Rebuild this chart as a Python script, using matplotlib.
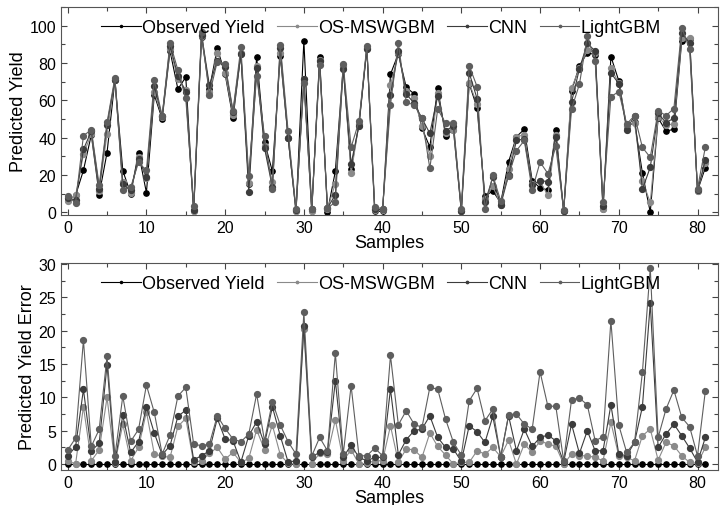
import matplotlib
matplotlib.use("Agg")
import matplotlib.pyplot as plt
from matplotlib.ticker import MultipleLocator

plt.rcParams['font.family'] = ['Liberation Sans', 'DejaVu Sans']

# datos
samples = list(range(82))

observed = [6.5, 9, 22.5, 41.5, 9.5, 32, 71, 22.3, 10, 32,
            10.5, 63, 50, 86.5, 66, 72.5, 0.5, 94, 66, 88,
            74, 50.5, 85, 15, 83.5, 37.5, 22, 84, 40, 0.5,
            92, 0.5, 83, 0.3, 22, 78, 23, 47.5, 88, 0.5,
            0.5, 74, 85, 67, 63.5, 45, 35, 66.5, 41, 44.3,
            0.5, 69, 56, 8.5, 11.5, 5, 27, 40.5, 44.5, 17,
            13, 12, 44, 0.5, 65, 78.5, 85.5, 84.5, 1.5, 83.5,
            70.5, 45.5, 48.5, 21, 0, 50.5, 43.5, 44.5, 92, 93,
            11.5, 24]

os_mswgbm = [6.0, 9.0, 31.1, 42.0, 11.5, 42.0, 71.1, 16.3, 10.5, 29.5,
             18.4, 64.5, 51.2, 87.5, 71.7, 65.7, 0.8, 94.5, 64.4, 85.5,
             74.8, 52.3, 85.3, 15.9, 78.4, 35.4, 16.2, 85.4, 39.9, 0.5,
             71.7, 0.5, 81.4, 1.8, 15.4, 78.5, 20.9, 47.5, 88.0, 1.0,
             1.0, 68.2, 85.2, 64.8, 61.3, 46.0, 30.4, 63.9, 42.4, 44.3,
             0.8, 69.3, 58.0, 7.0, 14.0, 3.9, 23.4, 40.5, 41.5, 15.3,
             16.5, 9.0, 41.3, 0.5, 66.5, 77.3, 86.8, 85.5, 2.0, 77.3,
             69.3, 46.5, 48.0, 16.8, 5.3, 51.1, 46.8, 47.3, 93.3, 93.3,
             11.6, 26.5]

cnn = [7.7, 6.4, 33.7, 43.5, 12.5, 46.9, 71.0, 15.1, 11.7, 28.7,
       19.1, 67.6, 51.4, 89.3, 73.2, 64.4, 1.2, 95.3, 68.0, 81.2,
       77.8, 54.0, 85.0, 10.8, 77.2, 34.5, 13.4, 88.3, 40.0, 1.0,
       71.3, 1.6, 81.3, 2.2, 9.5, 77.0, 25.9, 46.5, 87.5, 1.5,
       1.5, 62.8, 86.4, 63.4, 58.5, 50.3, 42.3, 62.5, 43.5, 46.5,
       0.9, 74.8, 60.9, 5.3, 18.7, 3.9, 19.8, 38.5, 39.3, 14.4,
       17.0, 16.4, 40.5, 0.8, 59.0, 76.9, 90.5, 86.5, 3.5, 74.6,
       69.0, 44.3, 51.8, 12.4, 24.1, 53.0, 48.0, 50.5, 96.3, 90.6,
       11.8, 28.0]

lightgbm = [8.6, 5.1, 41.1, 44.2, 14.5, 48.2, 72.2, 12.1, 13.4, 26.8,
            22.4, 70.8, 51.5, 90.9, 76.2, 61.0, 3.5, 96.8, 63.0, 80.8,
            79.4, 54.3, 88.4, 19.5, 73.0, 41.0, 12.7, 89.9, 43.4, 2.0,
            69.2, 1.7, 79.0, 2.3, 5.4, 79.5, 34.8, 48.8, 89.3, 2.9,
            1.8, 57.6, 90.9, 59.0, 57.5, 50.5, 23.5, 55.3, 47.8, 47.6,
            1.9, 78.5, 67.4, 2.0, 19.8, 6.1, 19.7, 33.0, 38.5, 11.8,
            26.9, 20.7, 35.3, 1.0, 55.4, 68.6, 94.4, 81.0, 5.6, 62.0,
            64.7, 47.3, 51.8, 34.8, 29.4, 54.5, 51.8, 55.6, 99.0, 87.4,
            12.7, 35.0]

obs_err = [0] * 82

os_err = [0.5, 0.0, 8.6, 0.5, 2.1, 10.0, 0.1, 6.0, 0.5, 2.5,
          7.85, 1.5, 1.2, 1.0, 5.65, 6.85, 0.25, 0.5, 1.6, 2.5,
          0.75, 1.75, 0.25, 0.85, 5.15, 2.15, 5.85, 1.4, 0.1, 0.0,
          20.3, 0.0, 1.65, 1.5, 6.65, 0.5, 2.15, 0.0, 0.1, 0.5,
          0.5, 5.75, 0.3, 2.25, 2.15, 1.0, 4.65, 2.65, 1.35, 0.0,
          0.25, 0.25, 2.0, 1.5, 2.5, 1.1, 3.6, 0.0, 3.0, 1.75,
          3.5, 3.0, 2.7, 0.0, 1.5, 1.25, 1.25, 1.0, 0.5, 6.25,
          1.25, 1.0, 0.5, 4.25, 5.25, 0.6, 3.25, 2.75, 1.25, 0.25,
          0.1, 2.5]

cnn_err = [1.2, 2.6, 11.2, 2.0, 3.1, 14.9, 0.3, 7.3, 1.75, 3.35,
           8.6, 4.65, 1.4, 2.75, 7.15, 8.1, 0.65, 1.25, 2.0, 6.85,
           3.75, 3.5, 0.3, 4.25, 6.35, 3.0, 8.6, 4.25, 0.3, 0.5,
           20.7, 1.1, 1.75, 1.85, 12.5, 1.0, 2.85, 1.0, 0.5, 1.0,
           1.0, 11.25, 1.4, 3.65, 5.0, 5.25, 7.25, 4.0, 2.5, 2.25,
           0.4, 5.75, 4.85, 3.25, 7.15, 1.1, 7.25, 2.0, 5.25, 2.65,
           4.0, 4.35, 3.5, 0.3, 6.0, 1.6, 5.0, 2.0, 2.0, 8.9,
           1.5, 1.25, 3.25, 8.6, 24.1, 2.5, 4.5, 6.0, 4.25, 2.4,
           0.3, 4.0]

lgbm_err = [2.1, 3.9, 18.6, 2.65, 5.2, 16.2, 1.2, 10.2, 3.4, 5.2,
            11.85, 7.75, 1.5, 4.35, 10.2, 11.5, 3.0, 2.75, 3.0, 7.25,
            5.35, 3.75, 3.35, 4.5, 10.5, 3.5, 9.35, 5.85, 3.35, 1.5,
            22.8, 1.2, 4.0, 2.0, 16.65, 1.5, 11.75, 1.25, 1.25, 2.4,
            1.25, 16.3, 5.9, 8.0, 6.0, 5.5, 11.5, 11.25, 6.75, 3.25,
            1.35, 9.5, 11.35, 6.5, 8.25, 1.1, 7.35, 7.5, 6.0, 5.25,
            13.85, 8.65, 8.7, 0.5, 9.65, 9.9, 8.9, 3.5, 4.1, 21.5,
            5.85, 1.75, 3.25, 13.75, 29.4, 4.0, 8.25, 11.1, 7.0, 5.6,
            1.25, 11.0]

names = ["Observed Yield", "OS-MSWGBM", "CNN", "LightGBM"]
colores = ["#000000", "#8a8a8a", "#3c3c3c", "#5e5e5e"]

fig = plt.figure(figsize=(7.21, 5.06), dpi=100)
ax1 = fig.add_axes([0.0846, 0.573, 0.9112, 0.411])
ax2 = fig.add_axes([0.0846, 0.069, 0.9112, 0.409])

top_series = [observed, os_mswgbm, cnn, lightgbm]
bottom_series = [obs_err, os_err, cnn_err, lgbm_err]

for ax, series in [(ax1, top_series), (ax2, bottom_series)]:
    for k in range(4):
        ax.plot(samples, series[k], color=colores[k], lw=0.8, marker='o',
                markersize=3.8 if k == 0 else 4.2, label=names[k],
                zorder=2 + k)
    ax.legend(loc='upper center', ncol=4, frameon=False, fontsize=13,
              handlelength=2.2, handletextpad=0.05, columnspacing=0.7,
              markerscale=0.4, bbox_to_anchor=(0.487, 1.02))
    ax.set_xlim(-0.85, 82.6)
    ax.xaxis.set_major_locator(MultipleLocator(10))
    ax.xaxis.set_minor_locator(MultipleLocator(5))
    ax.tick_params(which='both', direction='in', top=True, right=True,
                   labelsize=11.5, width=0.8, color='#444444')
    ax.tick_params(which='major', length=4)
    ax.tick_params(which='minor', length=3)
    ax.set_xlabel("Samples", fontsize=13, labelpad=-1)
    for sp in ax.spines.values():
        sp.set_color('#555555')
        sp.set_linewidth(0.8)

ax1.set_ylim(-1.5, 110)
ax1.yaxis.set_major_locator(MultipleLocator(20))
ax1.yaxis.set_minor_locator(MultipleLocator(10))
ax1.set_ylabel("Predicted Yield", fontsize=13, labelpad=2)

ax2.set_ylim(-0.9, 30.15)
ax2.yaxis.set_major_locator(MultipleLocator(5))
ax2.yaxis.set_minor_locator(MultipleLocator(2.5))
ax2.set_ylabel("Predicted Yield Error", fontsize=13, labelpad=2)

fig.savefig("out.png", dpi=100)
